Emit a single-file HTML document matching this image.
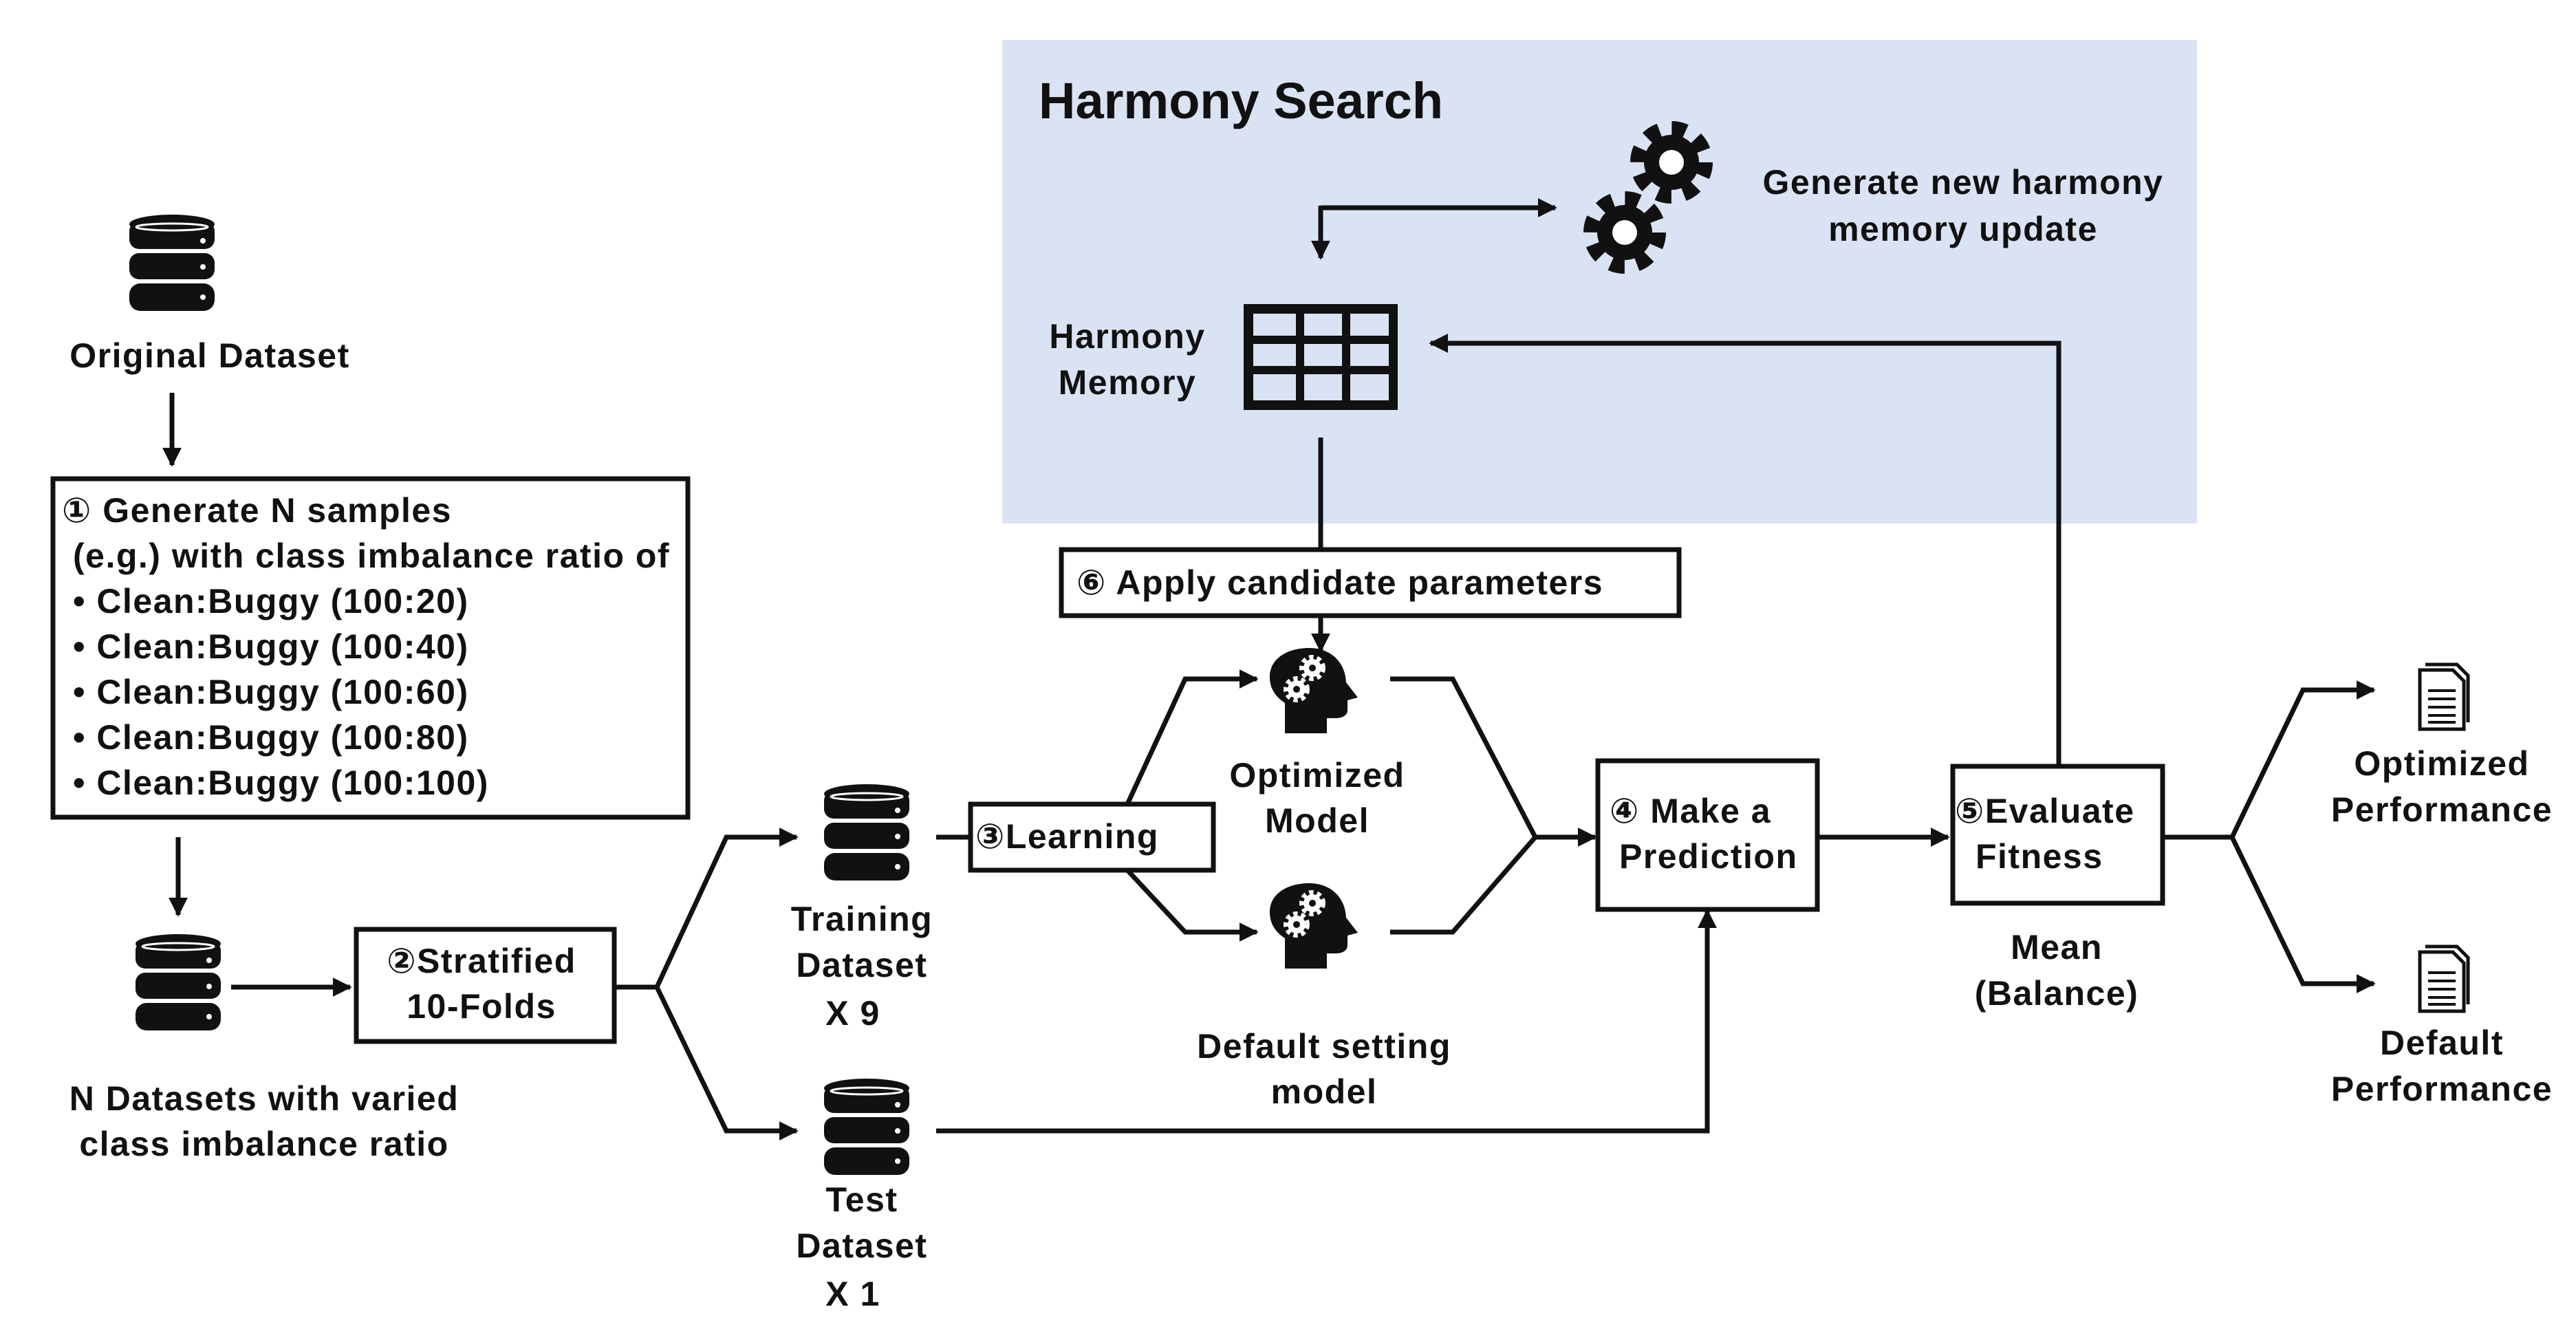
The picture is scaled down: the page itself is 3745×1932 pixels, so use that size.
<!DOCTYPE html>
<html><head><meta charset="utf-8"><style>
html,body{margin:0;padding:0;background:#fff}
svg{display:block}
text{font-family:"Liberation Sans","DejaVu Sans",sans-serif;font-weight:bold;fill:#111}
</style></head><body>
<svg width="3745" height="1932" viewBox="0 0 3745 1932" xmlns="http://www.w3.org/2000/svg">
<defs>
<marker id="a" viewBox="0 0 10 10" refX="9" refY="5" markerWidth="4" markerHeight="4" orient="auto" markerUnits="strokeWidth"><path d="M0,0 L10,5 L0,10 z" fill="#111"/></marker>
<g id="db">
 <rect x="0" y="10" width="124" height="40" rx="14" fill="#111"/>
 <ellipse cx="62" cy="14" rx="62" ry="14" fill="#111"/>
 <rect x="0" y="56" width="124" height="38" rx="14" fill="#111"/>
 <rect x="0" y="100" width="124" height="40" rx="16" fill="#111"/>
 <ellipse cx="62" cy="18" rx="52" ry="5" fill="none" stroke="#fff" stroke-width="3"/>
 <circle cx="107" cy="38" r="4" fill="#fff"/><circle cx="107" cy="76" r="4" fill="#fff"/><circle cx="107" cy="120" r="4" fill="#fff"/>
</g>
<g id="gear">
 <circle r="48" fill="none" stroke="#111" stroke-width="24" stroke-dasharray="20 17.7"/>
 <circle r="40" fill="#111"/>
 <circle r="18" fill="#fff"/>
</g>
<g id="wgear">
 <circle r="15" fill="none" stroke="#fff" stroke-width="8" stroke-dasharray="6 5"/>
 <circle r="13" fill="#fff"/>
 <circle r="5" fill="#111"/>
</g>
<g id="head">
 <path d="M22,124 L22,80 C4,68 0,54 0,42 C0,15 26,0 57,0 C90,0 110,22 111,50 L128,72 L113,76 L113,90 C113,98 106,102 95,102 L83,102 L83,124 Z" fill="#111"/>
 <use href="#wgear" x="62" y="29"/>
 <use href="#wgear" x="39" y="60"/>
</g>
<g id="doc">
 <path d="M4,10 L52,10 L68,26 L68,96 L4,96 Z" fill="#fff" stroke="#111" stroke-width="5"/>
 <path d="M12,2 L58,2 L74,18 L74,86" fill="none" stroke="#111" stroke-width="5"/>
 <path d="M16,40 H56 M16,52 H56 M16,64 H56 M16,76 H56 M16,86 H56" stroke="#111" stroke-width="4"/>
</g>
</defs>

<rect x="1457" y="58" width="1737" height="703" fill="#dae3f3"/>
<text x="1510" y="172" font-size="74">Harmony Search</text>

<g stroke="#111" stroke-width="7" fill="none">
 <path d="M250,571 V676" marker-end="url(#a)"/>
 <path d="M259,1217 V1330" marker-end="url(#a)"/>
 <path d="M336,1435 H509" marker-end="url(#a)"/>
 <path d="M893,1435 H955 L1056,1217 H1158" marker-end="url(#a)"/>
 <path d="M955,1435 L1056,1644 H1158" marker-end="url(#a)"/>
 <path d="M1361,1217 H1411"/>
 <path d="M1639,1169 L1723,987 H1827" marker-end="url(#a)"/>
 <path d="M1639,1265 L1723,1355 H1827" marker-end="url(#a)"/>
 <path d="M2021,987 H2112 L2232,1217 H2319" marker-end="url(#a)"/>
 <path d="M2021,1355 H2112 L2232,1217"/>
 <path d="M1361,1644 H2482 V1324" marker-end="url(#a)"/>
 <path d="M2642,1217 H2832" marker-end="url(#a)"/>
 <path d="M2993,1114 V499 H2080" marker-end="url(#a)"/>
 <path d="M3144,1217 H3245 L3348,1003 H3451" marker-end="url(#a)"/>
 <path d="M3245,1217 L3348,1430 H3451" marker-end="url(#a)"/>
 <path d="M1920,636 V799"/>
 <path d="M1920,895 V946" marker-end="url(#a)"/>
 <path d="M1920,302 H2261" marker-end="url(#a)"/>
 <path d="M1920,299 V375" marker-end="url(#a)"/>
 <rect x="77" y="696" width="923" height="492"/>
 <rect x="518" y="1351" width="375" height="163"/>
 <rect x="1411" y="1169" width="353" height="96"/>
 <rect x="1543" y="799" width="898" height="96"/>
 <rect x="2323" y="1106" width="319" height="216"/>
 <rect x="2839" y="1114" width="305" height="199"/>
</g>

<use href="#db" x="188" y="312"/>
<use href="#db" x="197" y="1358"/>
<use href="#db" x="1198" y="1140"/>
<use href="#db" x="1198" y="1568"/>
<use href="#head" x="1846" y="942"/>
<use href="#head" x="1846" y="1284"/>
<use href="#gear" x="2430" y="236"/>
<use href="#gear" x="2362" y="338"/>
<use href="#doc" x="3514" y="964"/>
<use href="#doc" x="3514" y="1374"/>

<rect x="1808" y="442" width="224" height="154" fill="#111"/>
<g fill="#dae3f3">
 <rect x="1822" y="456" width="62" height="32"/><rect x="1896" y="456" width="55" height="32"/><rect x="1963" y="456" width="56" height="32"/>
 <rect x="1822" y="500" width="62" height="32"/><rect x="1896" y="500" width="55" height="32"/><rect x="1963" y="500" width="56" height="32"/>
 <rect x="1822" y="544" width="62" height="38"/><rect x="1896" y="544" width="55" height="38"/><rect x="1963" y="544" width="56" height="38"/>
</g>

<g font-size="50" letter-spacing="1.5">
 <text x="305" y="534" text-anchor="middle">Original Dataset</text>
 <text x="90" y="759">① Generate N samples</text>
 <text x="106" y="825">(e.g.) with class imbalance ratio of</text>
 <text x="106" y="891">• Clean:Buggy (100:20)</text>
 <text x="106" y="957">• Clean:Buggy (100:40)</text>
 <text x="106" y="1023">• Clean:Buggy (100:60)</text>
 <text x="106" y="1089">• Clean:Buggy (100:80)</text>
 <text x="106" y="1155">• Clean:Buggy (100:100)</text>
 <text x="700" y="1414" text-anchor="middle">②Stratified</text>
 <text x="700" y="1480" text-anchor="middle">10-Folds</text>
 <text x="384" y="1614" text-anchor="middle">N Datasets with varied</text>
 <text x="384" y="1680" text-anchor="middle">class imbalance ratio</text>
 <text x="1253" y="1353" text-anchor="middle">Training</text>
 <text x="1253" y="1420" text-anchor="middle">Dataset</text>
 <text x="1240" y="1490" text-anchor="middle">X 9</text>
 <text x="1253" y="1761" text-anchor="middle">Test</text>
 <text x="1253" y="1828" text-anchor="middle">Dataset</text>
 <text x="1240" y="1898" text-anchor="middle">X 1</text>
 <text x="1418" y="1233">③Learning</text>
 <text x="1915" y="1144" text-anchor="middle">Optimized</text>
 <text x="1915" y="1210" text-anchor="middle">Model</text>
 <text x="1925" y="1538" text-anchor="middle">Default setting</text>
 <text x="1925" y="1604" text-anchor="middle">model</text>
 <text x="1565" y="864">⑥ Apply candidate parameters</text>
 <text x="1639" y="506" text-anchor="middle">Harmony</text>
 <text x="1639" y="573" text-anchor="middle">Memory</text>
 <text x="2854" y="282" text-anchor="middle">Generate new harmony</text>
 <text x="2854" y="350" text-anchor="middle">memory update</text>
 <text x="2340" y="1196">④ Make a</text>
 <text x="2354" y="1262">Prediction</text>
 <text x="2842" y="1196">⑤Evaluate</text>
 <text x="2872" y="1262">Fitness</text>
 <text x="2990" y="1394" text-anchor="middle">Mean</text>
 <text x="2990" y="1461" text-anchor="middle">(Balance)</text>
 <text x="3550" y="1127" text-anchor="middle">Optimized</text>
 <text x="3550" y="1194" text-anchor="middle">Performance</text>
 <text x="3550" y="1533" text-anchor="middle">Default</text>
 <text x="3550" y="1600" text-anchor="middle">Performance</text>
</g>
</svg>
</body></html>
